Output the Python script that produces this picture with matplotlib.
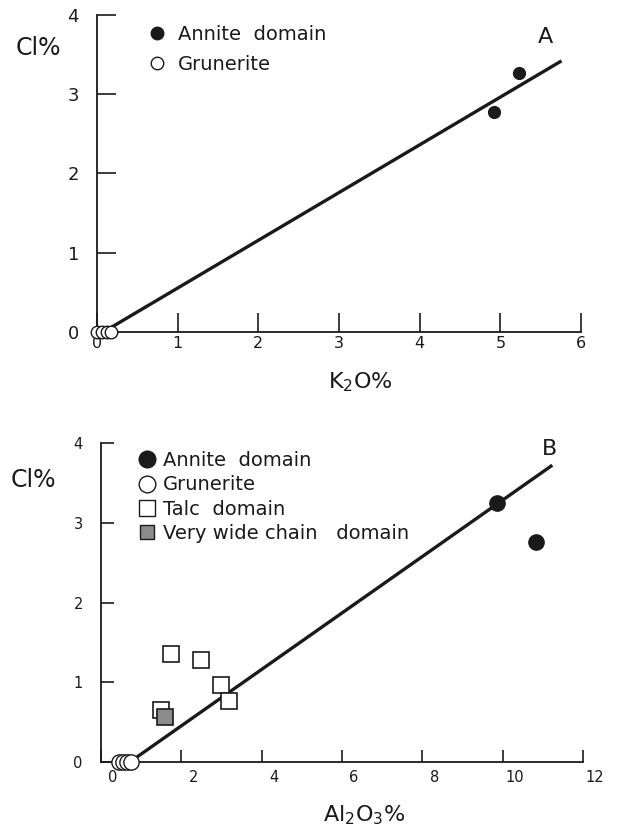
#!/usr/bin/env python3
"""Cl% versus K2O% and Al2O3% scatter with fitted lines (panels A and B)."""

import matplotlib

matplotlib.use("Agg")
import matplotlib.pyplot as plt
import matplotlib.transforms as mtransforms
from matplotlib.lines import Line2D

plt.rcParams["font.family"] = ["DejaVu Sans"]

# panel A: Cl% vs K2O%
a_annite_k2o = [4.92, 5.23]
a_annite_cl = [2.78, 3.27]
a_grun_k2o = [0.0, 0.06, 0.12, 0.17]
a_grun_cl = [0.0, 0.0, 0.0, 0.0]
a_fit_k2o = [0.08, 5.74]
a_fit_cl = [0.0, 3.41]
a_xticks = [0, 1, 2, 3, 4, 5, 6]
a_yticks = [0, 1, 2, 3, 4]

# panel B: Cl% vs Al2O3%
b_annite_al = [9.85, 10.82]
b_annite_cl = [3.25, 2.76]
b_grun_al = [0.45, 0.56, 0.66, 0.76]
b_grun_cl = [0.0, 0.0, 0.0, 0.0]
b_talc_al = [1.75, 2.5, 3.0, 3.2, 1.5]
b_talc_cl = [1.36, 1.28, 0.96, 0.77, 0.65]
b_wide_al = [1.6]
b_wide_cl = [0.57]
b_fit_al = [0.72, 11.2]
b_fit_cl = [0.0, 3.71]
b_xticks = [0, 2, 4, 6, 8, 10, 12]
b_yticks = [0, 1, 2, 3, 4]

INK = "#1a1a1a"

fig = plt.figure(figsize=(6.19, 8.32), dpi=100)


def style_axes(ax, tick_len, xlabsize, ylabsize, xpad):
    for side in ("top", "right"):
        ax.spines[side].set_visible(False)
    for side in ("left", "bottom"):
        ax.spines[side].set_linewidth(1.3)
        ax.spines[side].set_color(INK)
    ax.tick_params(axis="both", direction="in", length=tick_len, width=1.2, color=INK)
    ax.tick_params(axis="x", labelsize=xlabsize, pad=xpad, labelcolor=INK)
    ax.tick_params(axis="y", labelsize=ylabsize, pad=13, labelcolor=INK)


# ---- panel A ----
ax1 = fig.add_axes([0.1567, 0.601, 0.782, 0.381])
ax1.plot(a_fit_k2o, a_fit_cl, color=INK, lw=2.4, zorder=2)
ax1.plot(a_grun_k2o, a_grun_cl, "o", ms=9, mfc="white", mec=INK, mew=1.0,
         clip_on=False, zorder=3)
ax1.plot(a_annite_k2o, a_annite_cl, "o", ms=8.5, mfc=INK, mec=INK, zorder=3)
ax1.set_xlim(0, 6)
ax1.set_ylim(0, 4)
ax1.set_xticks(a_xticks)
ax1.set_yticks(a_yticks)
style_axes(ax1, 14, 11.5, 13, 3)
ax1.set_xlabel("K$_2$O%", fontsize=16, color=INK)
ax1.xaxis.set_label_coords(0.545, -0.12)
ax1.set_ylabel("Cl%", fontsize=17, rotation=0, color=INK)
ax1.yaxis.set_label_coords(-0.122, 0.858)
ax1.text(0.926, 0.93, "A", transform=ax1.transAxes, fontsize=16,
         ha="center", va="center", color=INK)
handles_a = [
    Line2D([], [], ls="none", marker="o", ms=9, mfc=INK, mec=INK),
    Line2D([], [], ls="none", marker="o", ms=9, mfc="white", mec=INK),
]
ax1.legend(handles_a, ["Annite  domain", "Grunerite"], loc="upper left",
           bbox_to_anchor=(0.068, 1.025), frameon=False, fontsize=14,
           handletextpad=0.55, labelspacing=0.6, handlelength=1.0,
           labelcolor=INK)

# ---- panel B ----
ax2 = fig.add_axes([0.163, 0.0841, 0.779, 0.3834])
ax2.plot(b_fit_al, b_fit_cl, color=INK, lw=2.4, zorder=2)
ax2.plot(b_grun_al, b_grun_cl, "o", ms=11, mfc="white", mec=INK, mew=1.0,
         clip_on=False, zorder=3)
ax2.plot(b_annite_al, b_annite_cl, "o", ms=11, mfc=INK, mec=INK, zorder=3)
ax2.plot(b_talc_al, b_talc_cl, "s", ms=12, mfc="white", mec=INK, mew=1.2,
         zorder=3)
ax2.plot(b_wide_al, b_wide_cl, "s", ms=11, mfc="#8c8c8c", mec=INK, mew=1.2,
         zorder=4)
ax2.set_xlim(0, 12)
ax2.set_ylim(0, 4)
ax2.set_xticks(b_xticks)
ax2.set_yticks(b_yticks)
style_axes(ax2, 9, 10.5, 10.5, 6)
shift = mtransforms.ScaledTranslation(0.12, 0, fig.dpi_scale_trans)
for lab in ax2.get_xticklabels():
    lab.set_transform(lab.get_transform() + shift)
ax2.set_xlabel("Al$_2$O$_3$%", fontsize=16, color=INK)
ax2.xaxis.set_label_coords(0.545, -0.13)
ax2.set_ylabel("Cl%", fontsize=17, rotation=0, color=INK)
ax2.yaxis.set_label_coords(-0.141, 0.846)
ax2.text(0.93, 0.98, "B", transform=ax2.transAxes, fontsize=16,
         ha="center", va="center", color=INK)
handles_b = [
    Line2D([], [], ls="none", marker="o", ms=12, mfc=INK, mec=INK),
    Line2D([], [], ls="none", marker="o", ms=12, mfc="white", mec=INK),
    Line2D([], [], ls="none", marker="s", ms=11, mfc="white", mec=INK),
    Line2D([], [], ls="none", marker="s", ms=10, mfc="#8c8c8c", mec=INK),
]
ax2.legend(handles_b, ["Annite  domain", "Grunerite", "Talc  domain",
                       "Very wide chain   domain"],
           loc="upper left", bbox_to_anchor=(0.04, 1.03), frameon=False,
           fontsize=14, handletextpad=0.3, labelspacing=0.28,
           handlelength=1.0, labelcolor=INK)

fig.savefig("out.png", dpi=100)
